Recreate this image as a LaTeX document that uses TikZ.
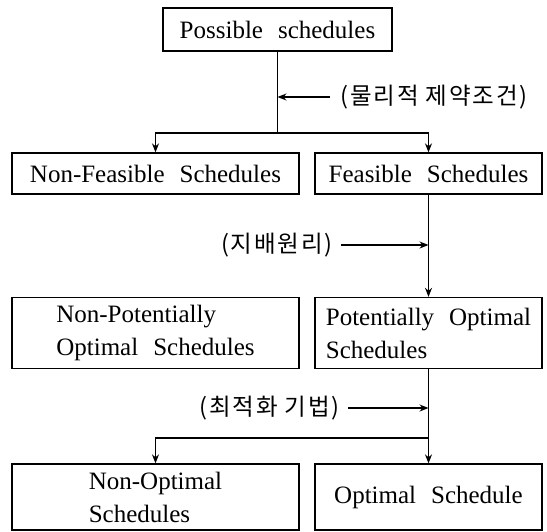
\documentclass[tikz,border=0pt]{standalone}
\usepackage{fontspec}
\setmainfont{Liberation Serif}[WordSpace=2.4]
\newfontfamily\kor{Noto Sans CJK KR}[LetterSpace=8]
\usetikzlibrary{arrows.meta}
\begin{document}
\begin{tikzpicture}[x=1pt,y=-1pt,
  box/.style={draw,line width=1.3pt,inner sep=0pt,align=left,font=\fontsize{25}{33}\selectfont},
  conn/.style={line width=1.3pt},
  arr/.style={line width=1.3pt,-{Stealth[length=9pt,width=7pt]}},
  lbl/.style={font=\kor\fontsize{23.5}{27}\selectfont,inner sep=0pt}]
\useasboundingbox (0,0) rectangle (547,531);
\node[box,minimum width=229pt,minimum height=43pt] (ps) at (277.5,29.5) {Possible schedules};
\node[box,minimum width=287pt,minimum height=41pt] (nf) at (155.5,173.5) {Non-Feasible Schedules};
\node[box,minimum width=227pt,minimum height=41pt] (fs) at (428.5,173.5) {Feasible Schedules};
\node[box,minimum width=287pt,minimum height=71pt] (np) at (155.5,333) {Non-Potentially\\Optimal Schedules};
\node[box,minimum width=227pt,minimum height=71pt] (po) at (428.5,333) {Potentially Optimal\\Schedules};
\node[box,minimum width=287pt,minimum height=66pt] (no) at (155.5,497) {Non-Optimal\\Schedules};
\node[box,minimum width=227pt,minimum height=66pt] (op) at (428.5,497) {Optimal Schedule};
% labels
\node[lbl,anchor=west] (l1) at (340,97) {(물리적 제약조건)};
\node[lbl,anchor=east] (l2) at (333,245) {(지배원리)};
\node[lbl,anchor=east] (l3) at (340,408) {(최적화 기법)};
% junctions
\coordinate (j1) at (277.5,133);
\coordinate (a1) at (277.5,97);
\coordinate (a2) at (428.5,245);
\coordinate (a3) at (428.5,408);
\coordinate (j3) at (428.5,438);
% connectors
\draw[conn] (ps.south) -- (j1);
\draw[arr] (j1) -| (nf.north);
\draw[arr] (j1) -| (fs.north);
\draw[arr] ([xshift=-10pt]l1.west) -- (a1);
\draw[arr] (fs.south) -- (po.north);
\draw[arr] ([xshift=8pt]l2.east) -- (a2);
\draw[conn] (po.south) -- (j3);
\draw[arr] (j3) -| (no.north);
\draw[arr] (j3) -- (op.north);
\draw[arr] ([xshift=8pt]l3.east) -- (a3);
\end{tikzpicture}
\end{document}
